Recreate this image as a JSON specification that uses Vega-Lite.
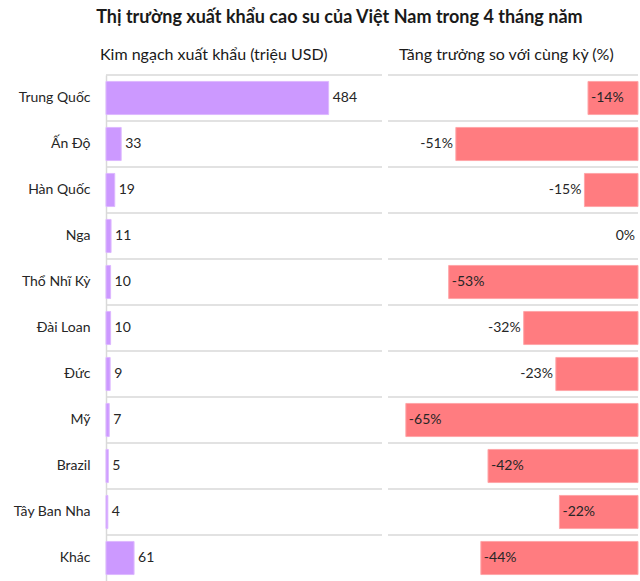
{
  "$schema": "https://vega.github.io/schema/vega-lite/v6.json",
  "padding": {"left": 0, "top": 9, "right": 3, "bottom": 0},
  "background": "white",
  "title": {"text": "Thị trường xuất khẩu cao su của Việt Nam trong 4 tháng năm", "font": "Lato", "fontSize": 18, "fontWeight": "bold", "color": "#1a1a1a", "anchor": "middle", "dx": 20, "offset": 20},
  "data": {"values": [
    {"country": "Trung Quốc", "value": 484, "growth": -0.14},
    {"country": "Ấn Độ", "value": 33, "growth": -0.51},
    {"country": "Hàn Quốc", "value": 19, "growth": -0.15},
    {"country": "Nga", "value": 11, "growth": 0},
    {"country": "Thổ Nhĩ Kỳ", "value": 10, "growth": -0.53},
    {"country": "Đài Loan", "value": 10, "growth": -0.32},
    {"country": "Đức", "value": 9, "growth": -0.23},
    {"country": "Mỹ", "value": 7, "growth": -0.65},
    {"country": "Brazil", "value": 5, "growth": -0.42},
    {"country": "Tây Ban Nha", "value": 4, "growth": -0.22},
    {"country": "Khác", "value": 61, "growth": -0.44}
  ]},
  "spacing": 4,
  "hconcat": [
    {
      "width": 276,
      "height": 506,
      "title": {"text": "Kim ngạch xuất khẩu (triệu USD)", "font": "Lato", "fontSize": 16, "fontWeight": "normal", "color": "#1a1a1a", "anchor": "start", "frame": "group", "dx": -6, "offset": 11},
      "layer": [
        {
          "mark": {"type": "rule", "color": "#D9D9D9", "strokeWidth": 1.5},
          "encoding": {"y": {"field": "country", "type": "nominal", "sort": null, "bandPosition": 0, "scale": {"paddingInner": 0, "paddingOuter": 0}, "axis": {"title": null, "labelFont": "Lato", "labelFontSize": 14, "labelColor": "#262626", "ticks": false, "labelPadding": 16, "labelBound": false, "domainColor": "#D9D9D9", "domainWidth": 1.5, "minExtent": 106, "maxExtent": 106}}}
        },
        {
          "mark": {"type": "bar", "color": "#CC99FF", "stroke": "#DDB8FF", "strokeWidth": 1, "height": {"band": 0.72}},
          "encoding": {
            "y": {"field": "country", "type": "nominal", "sort": null},
            "x": {"field": "value", "type": "quantitative", "scale": {"domain": [0, 600]}, "axis": null}
          }
        },
        {
          "mark": {"type": "text", "align": "left", "dx": 4, "font": "Lato", "fontSize": 14, "color": "#262626"},
          "encoding": {
            "y": {"field": "country", "type": "nominal", "sort": null},
            "x": {"field": "value", "type": "quantitative"},
            "text": {"field": "value", "type": "quantitative"}
          }
        }
      ]
    },
    {
      "width": 250,
      "height": 506,
      "title": {"text": "Tăng trưởng so với cùng kỳ (%)", "font": "Lato", "fontSize": 16, "fontWeight": "normal", "color": "#1a1a1a", "anchor": "start", "frame": "group", "dx": 11, "offset": 11},
      "layer": [
        {
          "mark": {"type": "rule", "color": "#D9D9D9", "strokeWidth": 1.5},
          "encoding": {"y": {"field": "country", "type": "nominal", "sort": null, "bandPosition": 0, "scale": {"paddingInner": 0, "paddingOuter": 0}, "axis": null}}
        },
        {
          "transform": [{"filter": "datum.growth != 0"}],
          "mark": {"type": "bar", "color": "#FF7C80", "stroke": "#FFA5A8", "strokeWidth": 1, "height": {"band": 0.72}},
          "encoding": {
            "y": {"field": "country", "type": "nominal", "sort": null},
            "x": {"field": "growth", "type": "quantitative", "scale": {"domain": [-0.7, 0]}, "axis": null}
          }
        },
        {
          "transform": [{"filter": {"field": "country", "oneOf": ["Ấn Độ", "Hàn Quốc", "Nga", "Đài Loan", "Đức"]}}],
          "mark": {"type": "text", "align": "right", "dx": -3, "font": "Lato", "fontSize": 14, "color": "#262626"},
          "encoding": {
            "y": {"field": "country", "type": "nominal", "sort": null},
            "x": {"field": "growth", "type": "quantitative"},
            "text": {"field": "growth", "type": "quantitative", "format": ".0%"}
          }
        },
        {
          "transform": [{"filter": {"not": {"field": "country", "oneOf": ["Ấn Độ", "Hàn Quốc", "Nga", "Đài Loan", "Đức"]}}}],
          "mark": {"type": "text", "align": "left", "dx": 3, "font": "Lato", "fontSize": 14, "color": "#262626"},
          "encoding": {
            "y": {"field": "country", "type": "nominal", "sort": null},
            "x": {"field": "growth", "type": "quantitative"},
            "text": {"field": "growth", "type": "quantitative", "format": ".0%"}
          }
        }
      ]
    }
  ],
  "config": {"view": {"stroke": null}, "font": "Lato", "locale": {"number": {"decimal": ".", "thousands": ",", "grouping": [3], "currency": ["$", ""], "minus": "-"}}}
}
